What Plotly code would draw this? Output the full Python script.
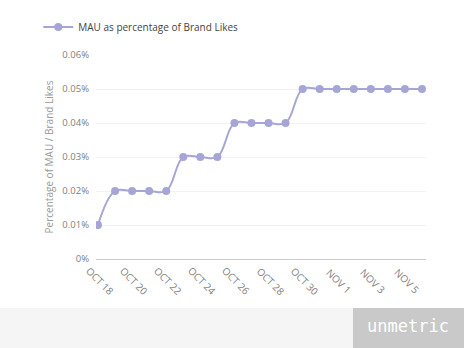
import plotly.graph_objects as go

# Daily MAU / brand-likes ratio (in percent) from Oct 18 to Nov 6
dates = [
    "2013-10-18", "2013-10-19", "2013-10-20", "2013-10-21", "2013-10-22",
    "2013-10-23", "2013-10-24", "2013-10-25", "2013-10-26", "2013-10-27",
    "2013-10-28", "2013-10-29", "2013-10-30", "2013-10-31", "2013-11-01",
    "2013-11-02", "2013-11-03", "2013-11-04", "2013-11-05", "2013-11-06",
]
mau_pct = [
    0.01, 0.02, 0.02, 0.02, 0.02,
    0.03, 0.03, 0.03, 0.04, 0.04,
    0.04, 0.04, 0.05, 0.05, 0.05,
    0.05, 0.05, 0.05, 0.05, 0.05,
]

x_tick_vals = ["2013-10-18", "2013-10-20", "2013-10-22", "2013-10-24", "2013-10-26",
               "2013-10-28", "2013-10-30", "2013-11-01", "2013-11-03", "2013-11-05"]
x_tick_text = ["OCT 18", "OCT 20", "OCT 22", "OCT 24", "OCT 26",
               "OCT 28", "OCT 30", "NOV 1", "NOV 3", "NOV 5"]
y_tick_vals = [0, 0.01, 0.02, 0.03, 0.04, 0.05, 0.06]
y_tick_text = ["0%", "0.01%", "0.02%", "0.03%", "0.04%", "0.05%", "0.06%"]

series_name = "MAU as percentage of Brand Likes"
line_color = "#a6a6d6"
label_color = "#808080"
font_family = "Open Sans, DejaVu Sans, sans-serif"

fig = go.Figure()
fig.add_trace(go.Scatter(
    x=dates, y=mau_pct, name=series_name,
    mode="lines+markers",
    line=dict(color=line_color, width=2, shape="spline", smoothing=1.1),
    marker=dict(color=line_color, size=8),
))

fig.update_layout(
    width=464, height=348,
    margin=dict(l=96, r=38, t=47, b=89),
    paper_bgcolor="white", plot_bgcolor="white",
    font=dict(family=font_family, size=10, color=label_color),
    showlegend=True,
    legend=dict(
        orientation="h", x=-0.175, xanchor="left", y=1.137, yanchor="middle",
        font=dict(size=10, color="#444444"), bgcolor="rgba(0,0,0,0)",
        itemwidth=30,
    ),
    xaxis=dict(
        type="date",
        range=["2013-10-17 21:10", "2013-11-06 05:40"],
        tickvals=x_tick_vals, showticklabels=False,
        showgrid=False, showline=True, linecolor="#cccccc", linewidth=1,
        ticks="", zeroline=False,
    ),
    yaxis=dict(
        range=[0, 0.06],
        tickvals=y_tick_vals, ticktext=y_tick_text,
        tickfont=dict(size=9.5, color=label_color),
        ticklabelstandoff=6,
        showgrid=True, gridcolor="#f2f2f2", gridwidth=1,
        zeroline=False, showline=False, ticks="",
        title=dict(text="Percentage of MAU / Brand Likes",
                   font=dict(size=10, color="#999999"), standoff=6),
    ),
)

# Slanted date labels centred under each tick position
for tv, tt in zip(x_tick_vals, x_tick_text):
    fig.add_annotation(x=tv, xref="x", y=-0.108, yref="paper",
                       text=tt, showarrow=False, textangle=45,
                       xanchor="center", yanchor="middle", xshift=2,
                       font=dict(size=10, color=label_color))

# Footer band with the brand badge
fig.add_shape(type="rect", xref="paper", yref="paper",
              x0=-0.3, x1=1.2, y0=-0.2406, y1=-0.45,
              fillcolor="#f5f5f5", line=dict(width=0), layer="below")
fig.add_shape(type="rect", xref="paper", yref="paper",
              x0=(353 - 96) / 330, x1=1.2, y0=-0.2406, y1=-0.45,
              fillcolor="#c9c9c9", line=dict(width=0), layer="below")
fig.add_annotation(xref="paper", yref="paper",
                   x=(408 - 96) / 330, y=(259 - 329) / 212,
                   text="unmetric", showarrow=False,
                   font=dict(family="DejaVu Sans Mono", size=17, color="white"),
                   xanchor="center", yanchor="middle")

fig.write_html("out.html")
